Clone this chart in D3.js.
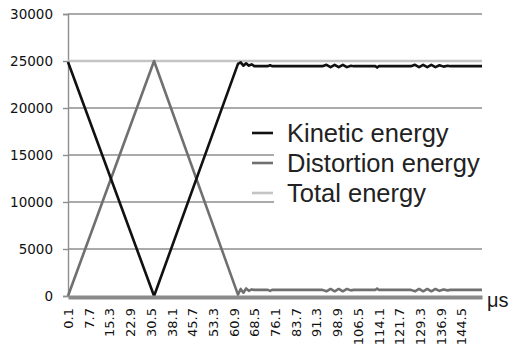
<html>
<head>
<title>Energy over time</title>
<script src="https://d3js.org/d3.v7.min.js" charset="utf-8"></script>
<style>
body { margin: 0; background: white; }
</style>
</head>
<body>
<script>
// chart data
var times = [0.1, 31.7, 62.5, 63.5, 64.5, 65.5, 66.5, 67.5, 68.5, 73.5, 74.3, 75, 93.5, 95, 96.5, 98, 99.5, 101, 102.5, 104, 105, 113, 113.6, 114.2, 126, 127.5, 129, 130.5, 132, 133.5, 135, 136.5, 138, 139.5, 140.5, 152.1];
var kinetic = [24900, 0, 24700, 24850, 24500, 24750, 24500, 24650, 24450, 24450, 24550, 24450, 24450, 24600, 24350, 24600, 24350, 24600, 24350, 24500, 24450, 24450, 24300, 24450, 24450, 24600, 24350, 24600, 24350, 24600, 24350, 24550, 24400, 24500, 24450, 24450];
var distortion = [0, 25000, 150, 750, 350, 800, 550, 700, 650, 650, 550, 650, 650, 500, 750, 500, 750, 500, 750, 600, 650, 650, 800, 650, 650, 500, 750, 500, 750, 500, 750, 550, 700, 600, 650, 650];
var totalTimes = [0.1, 152.1];
var total = [25000, 25000];

var xTicks = [0.1, 7.7, 15.3, 22.9, 30.5, 38.1, 45.7, 53.3, 60.9, 68.5, 76.1, 83.7, 91.3, 98.9, 106.5, 114.1, 121.7, 129.3, 136.9, 144.5];
var yTicks = [0, 5000, 10000, 15000, 20000, 25000, 30000];
var seriesNames = ["Kinetic energy", "Distortion energy", "Total energy"];
var seriesColors = ["#111111", "#707070", "#c4c4c4"];

var width = 510, height = 351;
var plotLeft = 68, plotRight = 482, plotTop = 14, plotBottom = 296;

var svg = d3.select("body").append("svg")
  .attr("width", width)
  .attr("height", height);

var x = d3.scaleLinear().domain([0.1, 152.1]).range([plotLeft, plotRight]);
var y = d3.scaleLinear().domain([0, 30000]).range([plotBottom, plotTop]);

// gridlines
svg.append("g").selectAll("line")
  .data(yTicks.filter(function(d) { return d > 0; }))
  .enter().append("line")
  .attr("x1", plotLeft).attr("x2", plotRight)
  .attr("y1", function(d) { return y(d); })
  .attr("y2", function(d) { return y(d); })
  .attr("stroke", "#8e8e8e")
  .attr("stroke-width", 1.4);

// y axis
var yAxis = svg.append("g")
  .attr("transform", "translate(" + plotLeft + ",0)")
  .call(d3.axisLeft(y).tickValues(yTicks).tickSize(5).tickPadding(10).tickFormat(d3.format("d")));
yAxis.select(".domain").attr("stroke", "#8e8e8e").attr("stroke-width", 1.4);
yAxis.selectAll(".tick line").attr("stroke", "#8e8e8e").attr("stroke-width", 1.4);
yAxis.selectAll("text")
  .attr("font-family", "DejaVu Sans")
  .attr("font-size", "13.5px")
  .attr("fill", "#111");

// lines
var line = d3.line()
  .x(function(d) { return x(d[0]); })
  .y(function(d) { return y(d[1]); });

var seriesData = [
  d3.zip(times, kinetic),
  d3.zip(times, distortion),
  d3.zip(totalTimes, total)
];

svg.append("g").selectAll("path")
  .data([2, 1, 0])
  .enter().append("path")
  .attr("d", function(i) { return line(seriesData[i]); })
  .attr("fill", "none")
  .attr("stroke", function(i) { return seriesColors[i]; })
  .attr("stroke-width", 2.6)
  .attr("stroke-linejoin", "round");

// x axis (thick gray band at zero)
var xAxis = svg.append("g")
  .attr("transform", "translate(0," + plotBottom + ")")
  .call(d3.axisBottom(x).tickValues(xTicks).tickSize(0).tickFormat(function(d) { return d; }));
xAxis.select(".domain").attr("stroke", "#8a8a8a").attr("stroke-width", 4).attr("transform", "translate(0,1)");
xAxis.selectAll("text")
  .attr("font-family", "DejaVu Sans")
  .attr("font-size", "13px")
  .attr("fill", "#111")
  .attr("text-anchor", "end")
  .attr("transform", "rotate(-90)")
  .attr("x", -12)
  .attr("y", 0)
  .attr("dy", "0.35em");

svg.append("text")
  .attr("x", 487).attr("y", 307)
  .attr("font-family", "Liberation Sans")
  .attr("font-size", "20px")
  .attr("fill", "#1a1a1a")
  .text("\u03bcs");

// legend
var legend = svg.append("g");
legend.append("rect")
  .attr("x", 274).attr("y", 118)
  .attr("width", plotRight - 274).attr("height", 92)
  .attr("fill", "white");
var rows = legend.selectAll("g")
  .data(seriesNames)
  .enter().append("g")
  .attr("transform", function(d, i) { return "translate(0," + (133 + i * 30) + ")"; });
rows.append("line")
  .attr("x1", 252).attr("x2", 273)
  .attr("stroke", function(d, i) { return seriesColors[i]; })
  .attr("stroke-width", 2.6);
rows.append("text")
  .attr("x", 287).attr("y", 0)
  .attr("dy", "0.35em")
  .attr("font-family", "Liberation Sans")
  .attr("font-size", "25.5px")
  .attr("fill", "#222")
  .text(function(d) { return d; });
</script>
</body>
</html>
